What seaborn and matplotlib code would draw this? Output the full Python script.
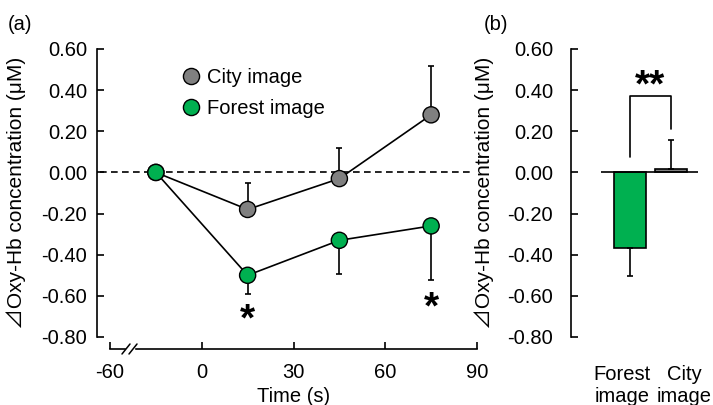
# ----------------------------------------------------------
# oxy-Hb time course (a) and mean (b)
# ----------------------------------------------------------
import numpy as np
import pandas as pd
import seaborn as sns
import matplotlib.pyplot as plt
import matplotlib.transforms as mtransforms
from matplotlib.lines import Line2D
from matplotlib.patches import Rectangle

# ----------------------------------------------------------
# data
# ----------------------------------------------------------
time_pos = [-15, 15, 45, 75]
x_ticks = [-30, 0, 30, 60, 90]
x_ticklabels = ['-60', '0', '30', '60', '90']
city_mean = [0.00, -0.18, -0.03, 0.28]
city_se = [0.00, 0.13, 0.15, 0.235]
forest_mean = [0.00, -0.50, -0.33, -0.26]
forest_se = [0.00, 0.09, 0.165, 0.265]
star_times = [15, 75]
star_y = [-0.72, -0.66]

bar_cats = ['Forest\nimage', 'City\nimage']
bar_mean = [-0.365, 0.015]
bar_se = [0.14, 0.145]
bracket_top = 0.37
bracket_left = 0.075
bracket_right = 0.21

green = '#00B050'
gray = '#808080'
ylab = '\u22bfOxy-Hb concentration (\u03bcM)'
fs = 14.5

# ----------------------------------------------------------
# style
# ----------------------------------------------------------
sns.set_style('ticks')
plt.rcParams['font.family'] = ['Liberation Sans', 'Noto Sans CJK JP', 'DejaVu Sans']
plt.rcParams['axes.unicode_minus'] = False
plt.rcParams['font.size'] = fs
plt.rcParams['text.color'] = 'black'
plt.rcParams['axes.labelcolor'] = 'black'
plt.rcParams['xtick.color'] = 'black'
plt.rcParams['ytick.color'] = 'black'
plt.rcParams['axes.edgecolor'] = 'black'

fig = plt.figure(figsize=(7.13, 4.05), dpi=100)
ax1 = fig.add_axes([110 / 713, 68 / 405, 367 / 713, 288 / 405])
ax2 = fig.add_axes([601 / 713, 68 / 405, 97 / 713, 288 / 405])

# ----------------------------------------------------------
# (a) time course
# ----------------------------------------------------------
df = pd.DataFrame({
    'time': time_pos * 2,
    'value': city_mean + forest_mean,
    'group': ['City image'] * 4 + ['Forest image'] * 4,
})

ax1.axhline(0, xmin=-0.027, xmax=0.98, color='black', lw=1.2,
            ls=(0, (4, 2.6)), clip_on=False, zorder=1)
sns.lineplot(data=df, x='time', y='value', hue='group',
             palette={'City image': 'black', 'Forest image': 'black'},
             lw=1.2, legend=False, ax=ax1, zorder=2)
ax1.errorbar(time_pos[1:], city_mean[1:], yerr=[[0] * 3, city_se[1:]],
             fmt='none', ecolor='black', elinewidth=1.2, capsize=2.5,
             capthick=1.2, zorder=3)
ax1.errorbar(time_pos[1:], forest_mean[1:], yerr=[forest_se[1:], [0] * 3],
             fmt='none', ecolor='black', elinewidth=1.2, capsize=2.5,
             capthick=1.2, zorder=3)
sns.scatterplot(data=df, x='time', y='value', hue='group',
                palette={'City image': gray, 'Forest image': green},
                s=135, edgecolor='black', linewidth=1.0, zorder=5, ax=ax1)

for t, y in zip(star_times, star_y):
    ax1.text(t, y, '*', ha='center', va='center', fontsize=28,
             fontweight='bold')

ax1.legend(loc='upper left', bbox_to_anchor=(0.194, 0.934), frameon=False,
           handlelength=1.0, handletextpad=0.27, borderpad=0,
           borderaxespad=0, labelspacing=0.6, fontsize=fs)

ax1.set_xlim(-30, 90)
ax1.set_ylim(-0.8, 0.6)
ax1.set_xticks(x_ticks)
ax1.set_xticklabels(x_ticklabels)
yt = np.round(np.arange(-0.8, 0.61, 0.2), 2) + 0.0
ytl = ['%.2f' % abs(v) if abs(v) < 1e-9 else '%.2f' % v for v in yt]
ax1.set_yticks(yt)
ax1.set_yticklabels(ytl)
ax1.set_xlabel('Time (s)', fontsize=fs, labelpad=4)
ax1.set_ylabel(ylab, fontsize=15)
ax1.yaxis.set_label_coords(-0.229, 0.5)
sns.despine(ax=ax1)
ax1.spines['left'].set_position(('outward', 9.4))
ax1.spines['bottom'].set_position(('outward', 8.6))
for s in ['left', 'bottom']:
    ax1.spines[s].set_linewidth(1.2)
ax1.tick_params(direction='in', length=5, width=1.2, labelsize=fs)
ax1.tick_params(axis='y', pad=7)
ax1.tick_params(axis='x', pad=10)

# axis break on the time axis
fig.add_artist(Rectangle((125.5 / 713, (405 - 352) / 405), 8 / 713, 6 / 405,
                         transform=fig.transFigure, color='white', zorder=10))
for x0 in [122, 129]:
    fig.add_artist(Line2D([x0 / 713, (x0 + 8) / 713],
                          [(405 - 354) / 405, (405 - 344) / 405],
                          transform=fig.transFigure, color='black', lw=1.1,
                          zorder=11))

# ----------------------------------------------------------
# (b) mean
# ----------------------------------------------------------
sns.barplot(x=bar_cats, y=bar_mean, hue=bar_cats, palette=[green, gray],
            saturation=1, edgecolor='black', linewidth=1.2, width=0.8,
            legend=False, ax=ax2, zorder=2)
ax2.errorbar([0, 1], bar_mean, yerr=[[bar_se[0], 0], [0, bar_se[1]]],
             fmt='none', ecolor='black', elinewidth=1.2, capsize=2.5,
             capthick=1.2, zorder=3)
ax2.axhline(0, color='black', lw=1.2, zorder=4)
ax2.plot([0, 0, 1, 1], [bracket_left, bracket_top, bracket_top, bracket_right],
         color='black', lw=1.2)
ax2.text(0.5, 0.42, '**', ha='center', va='center', fontsize=28,
         fontweight='bold')

ax2.set_xlim(-0.707, 1.659)
ax2.set_ylim(-0.8, 0.6)
ax2.set_yticks(yt)
ax2.set_yticklabels(ytl)
ax2.set_ylabel(ylab, fontsize=15)
ax2.yaxis.set_label_coords(-1.103, 0.5)
for s in ['top', 'right', 'bottom']:
    ax2.spines[s].set_visible(False)
ax2.spines['left'].set_position(('outward', 21.6))
ax2.spines['left'].set_linewidth(1.2)
ax2.tick_params(axis='y', direction='in', length=5, width=1.2,
                labelsize=fs, pad=13)
ax2.tick_params(axis='x', length=0, labelsize=fs, pad=20)
for lab, dx in zip(ax2.get_xticklabels(), [-8, 13]):
    lab.set_transform(lab.get_transform() +
                      mtransforms.ScaledTranslation(dx / 100, 0, fig.dpi_scale_trans))

fig.text(8 / 713, 1 - 25 / 405, '(a)', fontsize=fs, va='center')
fig.text(484 / 713, 1 - 25 / 405, '(b)', fontsize=fs, va='center')

plt.savefig('out.png', dpi=100)
plt.close()
